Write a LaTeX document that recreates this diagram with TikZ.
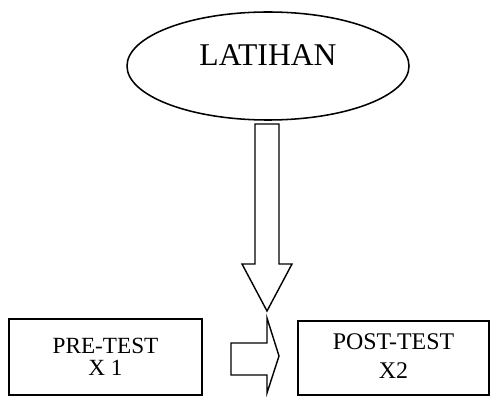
\documentclass[tikz,border=0pt]{standalone}
\usepackage{fontspec}
\setmainfont{Liberation Serif}
\usetikzlibrary{shapes.geometric}

\begin{document}
\begin{tikzpicture}[
    box/.style={draw, line width=1pt, align=center, inner sep=0pt},
    blockarrow/.style={draw, line width=1pt, line join=miter}
  ]
    \useasboundingbox (0,0) rectangle (12.25,9.9);

    % Treatment
    \node[ellipse, draw, line width=1.1pt, minimum width=7.05cm, minimum height=2.7cm,
          text height=0.4cm, text depth=0.4cm, font=\fontsize{22.5}{24}\selectfont]
        (latihan) at (6.7,8.25) {LATIHAN};

    % Tests
    \node[box, minimum width=4.825cm, minimum height=1.9cm,
          font=\fontsize{16.5}{16}\selectfont]
        (pre) at (2.6375,0.975) {PRE-TEST\\X 1};
    \node[box, minimum width=4.775cm, minimum height=1.85cm,
          font=\fontsize{17}{21.3}\selectfont]
        (post) at (9.8375,0.95) {\raisebox{-0.16cm}{\begin{tabular}{@{}c@{}}POST-TEST\\X2\end{tabular}}};

    % Down arrow
    \draw[blockarrow] (6.375,6.8) -- (6.975,6.8) -- (6.975,3.3) -- (7.3,3.3)
        -- (6.675,2.125) -- (6.05,3.3) -- (6.375,3.3) -- cycle;

    % Right arrow
    \draw[blockarrow] (5.775,1.325) -- (6.675,1.325) -- (6.675,1.95)
        -- (6.975,1.0) -- (6.675,0.075) -- (6.675,0.525) -- (5.775,0.525) -- cycle;
\end{tikzpicture}
\end{document}
